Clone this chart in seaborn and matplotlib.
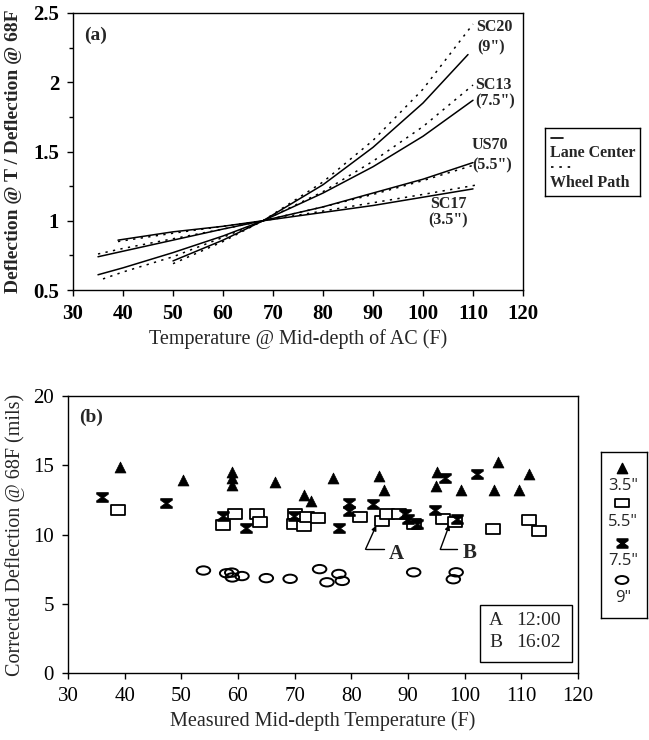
import numpy as np
import pandas as pd
import matplotlib
matplotlib.use("Agg")
import matplotlib.pyplot as plt
from matplotlib.path import Path
from matplotlib.patches import Rectangle
import seaborn as sns

# ---------------- Panel (a) data: normalized deflection ratio ----------------
sections = ["SC20", "SC13", "US70", "SC17"]
thickness = ['(9")', '(7.5")', '(5.5")', '(3.5")']

sc20_lane_T = [50, 60, 68, 80, 90, 100, 109]
sc20_lane_ratio = [0.71, 0.86, 1.0, 1.26, 1.53, 1.85, 2.20]
sc20_wheel_T = [50, 60, 68, 80, 90, 100, 110]
sc20_wheel_ratio = [0.69, 0.85, 1.0, 1.28, 1.58, 1.95, 2.42]

sc13_lane_T = [35, 40, 50, 60, 68, 80, 90, 100, 110]
sc13_lane_ratio = [0.61, 0.66, 0.77, 0.89, 1.0, 1.20, 1.39, 1.61, 1.87]
sc13_wheel_T = [36, 40, 50, 60, 68, 80, 90, 100, 110]
sc13_wheel_ratio = [0.58, 0.63, 0.74, 0.88, 1.0, 1.21, 1.43, 1.68, 1.98]

us70_lane_T = [35, 40, 50, 60, 68, 80, 90, 100, 110]
us70_lane_ratio = [0.74, 0.78, 0.86, 0.94, 1.0, 1.10, 1.20, 1.30, 1.42]
us70_wheel_T = [35, 40, 50, 60, 68, 80, 90, 100, 110]
us70_wheel_ratio = [0.76, 0.80, 0.87, 0.94, 1.0, 1.10, 1.19, 1.29, 1.40]

sc17_lane_T = [39, 50, 60, 68, 80, 90, 100, 110]
sc17_lane_ratio = [0.86, 0.92, 0.96, 1.0, 1.06, 1.11, 1.17, 1.23]
sc17_wheel_T = [39, 50, 60, 68, 80, 90, 100, 111]
sc17_wheel_ratio = [0.85, 0.91, 0.96, 1.0, 1.07, 1.13, 1.19, 1.26]

# ---------------- Panel (b) data: corrected deflection (mils) ----------------
t35_T = [39.2, 50.3, 58.9, 58.9, 58.9, 66.6, 71.6, 72.9, 76.8, 84.8, 85.8,
         95.1, 95.0, 99.4, 105.9, 105.1, 109.5, 111.3]
t35_D = [14.9, 13.9, 14.5, 14.1, 13.6, 13.8, 12.85, 12.4, 14.05, 14.2, 13.2,
         14.5, 13.5, 13.2, 15.25, 13.2, 13.2, 14.4]

t55_T = [38.9, 57.3, 59.5, 63.4, 63.9, 70.1, 69.8, 71.6, 72.2, 74.2, 81.6,
         85.4, 86.3, 88.4, 91.0, 96.2, 98.3, 105.0, 111.3, 113.1]
t55_D = [11.8, 10.7, 11.45, 11.5, 10.9, 11.5, 10.75, 10.6, 11.25, 11.2, 11.25,
         11.0, 11.45, 11.45, 10.75, 11.1, 10.9, 10.4, 11.05, 10.25]

t75_T = [36.0, 47.3, 57.4, 61.4, 69.8, 77.8, 79.5, 79.5, 83.9, 89.5, 90.0,
         91.5, 94.8, 96.6, 98.7, 102.1]
t75_D = [12.7, 12.25, 11.3, 10.45, 11.3, 10.45, 12.25, 11.7, 12.2, 11.5, 11.15,
         10.75, 11.75, 14.05, 11.1, 14.35]

t9_T = [53.9, 58.0, 58.9, 59.0, 60.7, 65.0, 69.2, 74.4, 75.7, 77.8, 78.4,
        91.0, 98.0, 98.5]
t9_D = [7.4, 7.2, 7.25, 6.9, 7.0, 6.85, 6.8, 7.5, 6.55, 7.15, 6.65,
        7.27, 6.77, 7.27]

legend_b_labels = ['3.5"', '5.5"', '7.5"', '9"']
note_labels = ["A", "B"]
note_times = ["12:00", "16:02"]

# ---------------- style ----------------
sns.set_theme(style="ticks")
plt.rcParams["font.family"] = ["Liberation Serif", "DejaVu Serif"]
plt.rcParams["axes.edgecolor"] = "black"
plt.rcParams["axes.linewidth"] = 1.0
plt.rcParams["xtick.color"] = "black"
plt.rcParams["ytick.color"] = "black"

W, H = 649, 740
fig = plt.figure(figsize=(W / 100, H / 100), dpi=100)
fig.patch.set_facecolor("white")


def frect(x0, y0, x1, y1):
    return [x0 / W, 1 - y1 / H, (x1 - x0) / W, (y1 - y0) / H]


axA = fig.add_axes(frect(73, 13, 523, 290))
axB = fig.add_axes(frect(68, 396, 578, 673))

# ---------------- Panel (a) ----------------
line_defs = [
    ("SC20", "Lane Center", sc20_lane_T, sc20_lane_ratio),
    ("SC20", "Wheel Path", sc20_wheel_T, sc20_wheel_ratio),
    ("SC13", "Lane Center", sc13_lane_T, sc13_lane_ratio),
    ("SC13", "Wheel Path", sc13_wheel_T, sc13_wheel_ratio),
    ("US70", "Lane Center", us70_lane_T, us70_lane_ratio),
    ("US70", "Wheel Path", us70_wheel_T, us70_wheel_ratio),
    ("SC17", "Lane Center", sc17_lane_T, sc17_lane_ratio),
    ("SC17", "Wheel Path", sc17_wheel_T, sc17_wheel_ratio),
]
rows = []
for sec, pos, T, R in line_defs:
    for t, r in zip(T, R):
        rows.append({"section": sec, "position": pos, "T": t, "ratio": r})
dfA = pd.DataFrame(rows)

sns.lineplot(data=dfA, x="T", y="ratio", style="position", units="section",
             estimator=None, color="black", linewidth=1.1,
             dashes={"Lane Center": "", "Wheel Path": (1.5, 3.5)},
             legend=False, ax=axA)

axA.set_xlim(30, 120)
axA.set_ylim(0.5, 2.5)
axA.set_xticks(range(30, 121, 10))
axA.set_yticks([0.5, 1, 1.5, 2, 2.5])
axA.set_yticklabels(["0.5", "1", "1.5", "2", "2.5"])
axA.set_yticks([0.75, 1.25, 1.75, 2.25], minor=True)
axA.tick_params(axis="both", which="major", direction="out", length=4, width=1,
                labelsize=15, pad=6)
axA.tick_params(axis="y", which="minor", direction="out", length=3, width=1)
for lab in axA.get_xticklabels() + axA.get_yticklabels():
    lab.set_fontweight("bold")
axA.set_xlabel("Temperature @ Mid-depth of AC (F)", fontsize=14.5, labelpad=4)
axA.set_ylabel("Deflection @ T / Deflection @ 68F", fontsize=14,
               fontweight="bold", labelpad=8)
for s in axA.spines.values():
    s.set_visible(True)
    s.set_color("black")

axA.text(0.025, 0.92, "(a)", transform=axA.transAxes, fontsize=14,
         fontweight="bold", ha="left", va="center")

lab_pos = {"SC20": (110.6, 2.40, 110.8, 2.25),
           "SC13": (110.4, 1.98, 110.4, 1.86),
           "US70": (109.8, 1.55, 109.8, 1.40),
           "SC17": (101.4, 1.12, 101.0, 1.00)}
for sec, th in zip(sections, thickness):
    x1, y1, x2, y2 = lab_pos[sec]
    axA.text(x1, y1, sec, fontsize=11.5, fontweight="bold", ha="left", va="center")
    axA.text(x2, y2, th, fontsize=11.5, fontweight="bold", ha="left", va="center")

# legend (a)
legA = fig.add_axes(frect(545, 128, 640, 196))
legA.set_xlim(545, 640)
legA.set_ylim(196, 128)
legA.set_xticks([])
legA.set_yticks([])
for s in legA.spines.values():
    s.set_color("black")
    s.set_linewidth(1.0)
legA.plot([551, 563], [138, 138], color="black", lw=1.2)
legA.text(550, 153, "Lane Center", fontsize=11.5, fontweight="bold",
          ha="left", va="center")
legA.plot([551, 573], [167, 167], color="black", lw=1.2, linestyle=(0, (1.5, 3.5)))
legA.text(550, 183, "Wheel Path", fontsize=11.5, fontweight="bold",
          ha="left", va="center")

# ---------------- Panel (b) ----------------
rect_marker = Path([(-1, -0.62), (1, -0.62), (1, 0.62), (-1, 0.62), (-1, -0.62)],
                   [Path.MOVETO, Path.LINETO, Path.LINETO, Path.LINETO, Path.CLOSEPOLY])
hour_marker = Path([(-1, 0.85), (1, 0.85), (1, 0.55), (0.2, 0), (1, -0.55),
                    (1, -0.85), (-1, -0.85), (-1, -0.55), (-0.2, 0), (-1, 0.55),
                    (-1, 0.85)],
                   [Path.MOVETO] + [Path.LINETO] * 9 + [Path.CLOSEPOLY])
circ = Path.unit_circle()
ell_marker = Path(circ.vertices * np.array([1.0, 0.62]), circ.codes)

dfB = {
    "3.5": pd.DataFrame({"T": t35_T, "D": t35_D}),
    "5.5": pd.DataFrame({"T": t55_T, "D": t55_D}),
    "7.5": pd.DataFrame({"T": t75_T, "D": t75_D}),
    "9": pd.DataFrame({"T": t9_T, "D": t9_D}),
}
sns.scatterplot(data=dfB["3.5"], x="T", y="D", marker="^", s=62, color="black",
                edgecolor="black", linewidth=0.5, ax=axB, zorder=3)
sns.scatterplot(data=dfB["5.5"], x="T", y="D", marker=rect_marker, s=110,
                color="black", facecolor="white", edgecolor="black",
                linewidth=1.3, ax=axB, zorder=2)
sns.scatterplot(data=dfB["7.5"], x="T", y="D", marker=hour_marker, s=70,
                color="black", edgecolor="black", linewidth=0.5, ax=axB, zorder=3)
sns.scatterplot(data=dfB["9"], x="T", y="D", marker=ell_marker, s=95,
                color="black", facecolor="none", edgecolor="black",
                linewidth=1.4, ax=axB, zorder=2)

axB.set_xlim(30, 120)
axB.set_ylim(0, 20)
axB.set_xticks(range(30, 121, 10))
axB.set_yticks(range(0, 21, 5))
axB.tick_params(axis="both", which="major", direction="out", length=4, width=1,
                labelsize=15, pad=6)
axB.set_xlabel("Measured Mid-depth Temperature (F)", fontsize=14.5, labelpad=4)
axB.set_ylabel("Corrected Deflection @ 68F (mils)", fontsize=14.5, labelpad=6)
for s in axB.spines.values():
    s.set_visible(True)
    s.set_color("black")
axB.text(0.022, 0.924, "(b)", transform=axB.transAxes, fontsize=14,
         fontweight="bold", ha="left", va="center")

# leader lines A and B
axB.plot([85.7, 82.5], [8.93, 8.93], color="black", lw=1.0)
axB.annotate("", xy=(84.4, 10.65), xytext=(82.5, 8.93),
             arrowprops=dict(arrowstyle="-|>", lw=1.0, color="black",
                             mutation_scale=7, shrinkA=0, shrinkB=0))
axB.text(86.6, 8.6, note_labels[0], fontsize=15, fontweight="bold",
         ha="left", va="center")
axB.plot([98.7, 95.7], [8.93, 8.93], color="black", lw=1.0)
axB.annotate("", xy=(97.3, 10.7), xytext=(95.7, 8.93),
             arrowprops=dict(arrowstyle="-|>", lw=1.0, color="black",
                             mutation_scale=7, shrinkA=0, shrinkB=0))
axB.text(99.6, 8.7, note_labels[1], fontsize=15, fontweight="bold",
         ha="left", va="center")

# A/B time box
axB.add_patch(Rectangle((0.808, 0.040), 0.180, 0.205, transform=axB.transAxes,
                        facecolor="white", edgecolor="black", lw=1.0, zorder=4))
for i, (lab, tm) in enumerate(zip(note_labels, note_times)):
    yy = 0.190 - i * 0.080
    axB.text(0.826, yy, lab, transform=axB.transAxes, fontsize=14,
             ha="left", va="center", zorder=5)
    axB.text(0.878, yy, tm, transform=axB.transAxes, fontsize=14,
             ha="left", va="center", zorder=5)

# legend (b)
legB = fig.add_axes(frect(601, 452, 647, 618))
legB.set_xlim(601, 647)
legB.set_ylim(618, 452)
legB.set_xticks([])
legB.set_yticks([])
for s in legB.spines.values():
    s.set_color("black")
    s.set_linewidth(1.0)
legB.scatter([622], [468], marker="^", s=55, color="black")
legB.scatter([622], [503], marker=rect_marker, s=95, facecolor="white",
             edgecolor="black", linewidth=1.3)
legB.scatter([622], [543], marker=hour_marker, s=60, color="black")
legB.scatter([622], [580], marker=ell_marker, s=85, facecolor="none",
             edgecolor="black", linewidth=1.4)
for lab, yy in zip(legend_b_labels, [486, 522, 561, 598]):
    legB.text(623, yy, lab, fontsize=12, ha="center", va="center",
              family=["Open Sans", "DejaVu Sans"])

fig.savefig("out.png", dpi=100, facecolor="white")
